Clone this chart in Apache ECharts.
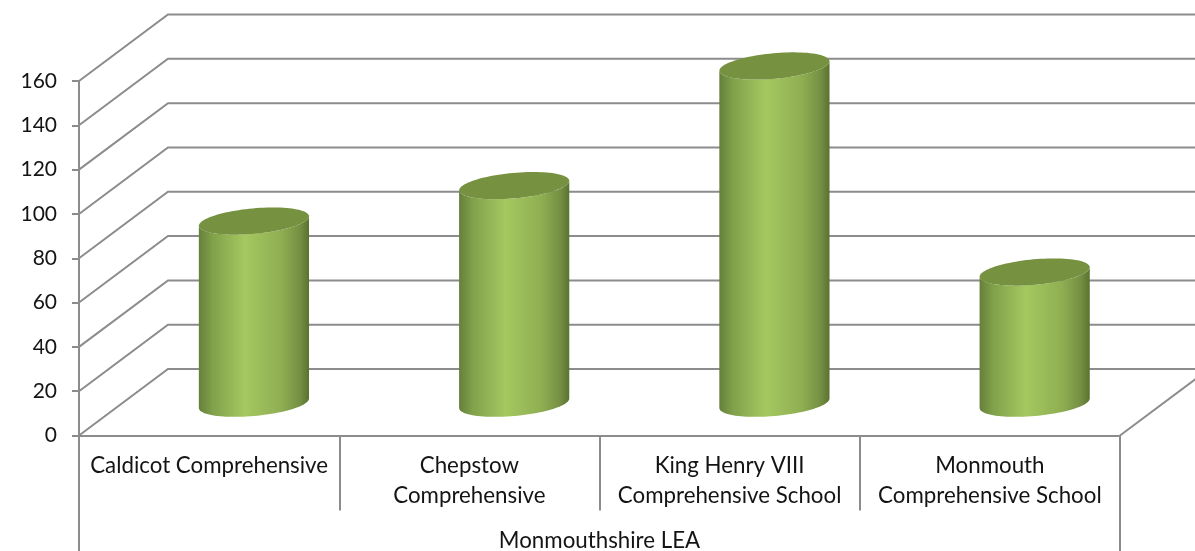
<!DOCTYPE html>
<html>
<head>
<meta charset="utf-8">
<style>html,body{margin:0;padding:0;background:#fff}#c{width:1195px;height:551px}</style>
<script src="https://cdn.jsdelivr.net/npm/echarts@6/dist/echarts.min.js"></script>
</head>
<body>
<div id="c"></div>
<script>
const categories = ["Caldicot Comprehensive", "Chepstow\nComprehensive", "King Henry VIII\nComprehensive School", "Monmouth\nComprehensive School"];
const groupLabels = ["Monmouthshire LEA"];
const values = [82, 98, 152, 59];
const yTicks = [0, 20, 40, 60, 80, 100, 120, 140, 160];

const lineColor = "#8c8c8c";
const textColor = "#141414";
const fontFamily = "Lato";
const depthX = 89, depthY = -66.5;
const tilt = -5.2 * Math.PI / 180;

function arc(cx, cy, rx, ry, from, to, n) {
  const pts = [];
  for (let i = 0; i <= n; i++) {
    const t = from + (to - from) * i / n;
    pts.push([
      cx + rx * Math.cos(t) * Math.cos(tilt) - ry * Math.sin(t) * Math.sin(tilt),
      cy + rx * Math.cos(t) * Math.sin(tilt) + ry * Math.sin(t) * Math.cos(tilt)
    ]);
  }
  return pts;
}

function renderWall(params, api) {
  const cs = params.coordSys;
  const y = api.coord([0, api.value(1)])[1];
  const x0 = cs.x, x1 = cs.x + cs.width;
  const style = { stroke: lineColor, lineWidth: 2, fill: null };
  const children = [{
    type: "polyline",
    shape: { points: [[x0, y], [x0 + depthX, y + depthY], [x1 + depthX, y + depthY]] },
    style: style
  }];
  if (api.value(1) === 0) {
    children.push({
      type: "line",
      shape: { x1: x1, y1: y, x2: x1 + depthX, y2: y + depthY },
      style: style
    });
  }
  return { type: "group", children: children };
}

function renderCylinder(params, api) {
  const top = api.coord([api.value(0), api.value(1)]);
  const base = api.coord([api.value(0), 0]);
  const band = api.size([1, 0])[0];
  const rx = band * 0.2125, ry = rx * 0.23;
  const cx = top[0] + depthX / 2 + 0.3;
  const topY = top[1] + depthY / 2 + 0.5, baseY = base[1] + depthY / 2 + 1;
  const t0 = Math.atan2(-ry * Math.sin(tilt), rx * Math.cos(tilt));
  const lower = arc(cx, baseY, rx, ry, t0, t0 + Math.PI, 48);
  const upper = arc(cx, topY, rx, ry, t0, t0 + Math.PI, 48).reverse();
  return {
    type: "group",
    children: [{
      type: "polygon",
      shape: { points: upper.concat(lower) },
      style: {
        fill: new echarts.graphic.LinearGradient(0, 0, 1, 0, [
          { offset: 0, color: "#65803a" },
          { offset: 0.12, color: "#80a04a" },
          { offset: 0.42, color: "#a5c860" },
          { offset: 0.75, color: "#8fae52" },
          { offset: 0.92, color: "#748f42" },
          { offset: 1, color: "#5a7230" }
        ])
      }
    }, {
      type: "polygon",
      shape: { points: arc(cx, topY, rx, ry, 0, Math.PI * 2, 96) },
      style: { fill: "#76913f" }
    }]
  };
}

const chart = echarts.init(document.getElementById("c"), null, { renderer: "canvas" });
chart.setOption({
  animation: false,
  backgroundColor: "#ffffff",
  grid: { left: 79, right: 75, top: 81, bottom: 115.5, containLabel: false, outerBoundsMode: "none" },
  xAxis: [{
    type: "category",
    data: categories,
    boundaryGap: true,
    axisLine: { show: true, onZero: false, lineStyle: { color: lineColor, width: 2 } },
    axisTick: { show: true, inside: false, length: 75, interval: 0, lineStyle: { color: lineColor, width: 2 } },
    axisLabel: { interval: 0, margin: 16, color: textColor, fontFamily: fontFamily, fontSize: 22.3, lineHeight: 29.5 },
    splitLine: { show: false }
  }, {
    type: "category",
    data: groupLabels,
    position: "bottom",
    boundaryGap: true,
    axisLine: { show: false },
    axisTick: { show: true, length: 116, interval: 0, lineStyle: { color: lineColor, width: 2 } },
    axisLabel: { interval: 0, margin: 94, color: textColor, fontFamily: fontFamily, fontSize: 22.3 },
    splitLine: { show: false }
  }],
  yAxis: {
    type: "value",
    min: 0,
    max: 160,
    interval: 20,
    axisLine: { show: true, lineStyle: { color: lineColor, width: 2 } },
    axisTick: { show: true, length: 7, lineStyle: { color: lineColor, width: 2 } },
    axisLabel: { margin: 22, color: textColor, fontFamily: fontFamily, fontSize: 21 },
    splitLine: { show: false }
  },
  series: [{
    type: "custom",
    name: "walls",
    z: 1,
    silent: true,
    clip: false,
    renderItem: renderWall,
    encode: { x: 0, y: 1 },
    data: yTicks.map(v => [0, v])
  }, {
    type: "custom",
    name: "Pupils",
    z: 2,
    clip: false,
    renderItem: renderCylinder,
    encode: { x: 0, y: 1 },
    data: values.map((v, i) => [i, v])
  }]
});
</script>
</body>
</html>
